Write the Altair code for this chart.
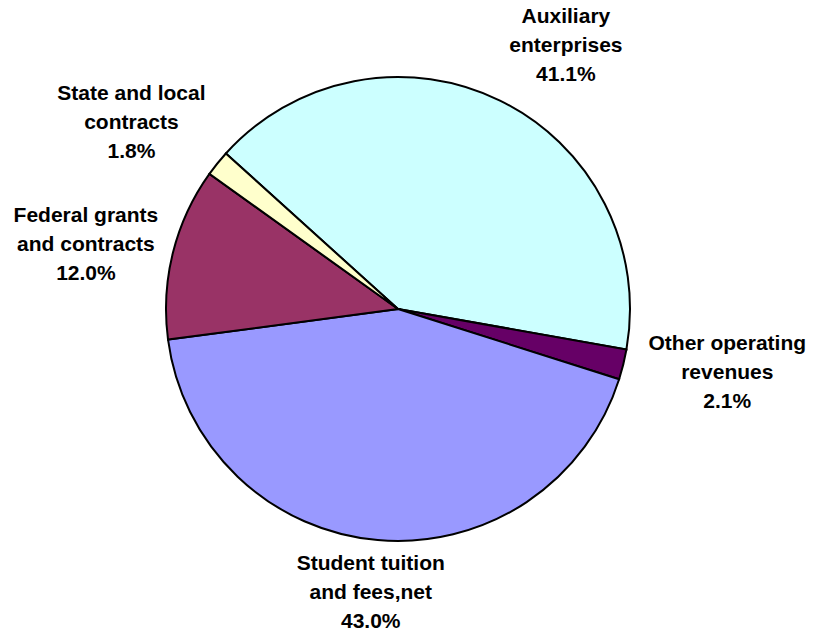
import math
import altair as alt
import pandas as pd

# ---- data ----
categories = ["Auxiliary enterprises", "Other operating revenues",
              "Student tuition and fees,net", "Federal grants and contracts",
              "State and local contracts"]
label_lines = ["Auxiliary\nenterprises", "Other operating\nrevenues",
               "Student tuition\nand fees,net", "Federal grants\nand contracts",
               "State and local\ncontracts"]
shares = [41.1, 2.1, 43.0, 12.0, 1.8]

# ---- styles ----
colors = ["#CCFFFF", "#660066", "#9999FF", "#993366", "#FFFFCC"]
start = math.radians(312.1)
cx, cy = 390, 301
pie_r = 232
# label layout (radius, dx, dy) per category
label_layout = {
    "Auxiliary enterprises": (300, 36, -23),
    "Other operating revenues": (300, 38, -37),
    "Student tuition and fees,net": (300, -1, -44),
    "Federal grants and contracts": (300, -21, -20),
    "State and local contracts": (300, -33, -27),
}

df = pd.DataFrame({
    "category": categories,
    "label": [f"{l}\n{v:.1f}%" for l, v in zip(label_lines, shares)],
    "value": shares,
    "order": list(range(len(categories))),
})

theta_scale = alt.Scale(domain=[0, 100], range=[start, start + 2 * math.pi])

base = alt.Chart(df).transform_window(
    cum="sum(value)", sort=[alt.SortField("order")]
).transform_calculate(mid="datum.cum - datum.value / 2")

pie = base.mark_arc(outerRadius=pie_r, stroke="black", strokeWidth=2).encode(
    theta=alt.Theta("value:Q", stack=True, scale=theta_scale),
    order=alt.Order("order:Q"),
    color=alt.Color("category:N", scale=alt.Scale(domain=categories, range=colors), legend=None),
    x=alt.value(cx), y=alt.value(cy),
)

layers = [pie]
for cat in categories:
    r, dx, dy = label_layout[cat]
    t = base.transform_filter(alt.datum.category == cat).mark_text(
        radius=r, dx=dx, dy=dy, font="Liberation Sans", fontWeight="bold",
        fontSize=21, lineHeight=29, align="center", baseline="middle",
        lineBreak="\n", color="black",
    ).encode(
        theta=alt.Theta("mid:Q", stack=None, scale=theta_scale),
        text="label:N",
        x=alt.value(cx), y=alt.value(cy),
    )
    layers.append(t)

chart = alt.layer(*layers).properties(
    width=798, height=621, padding=0,
    autosize=alt.AutoSizeParams(type="none"),
).configure_view(stroke=None)

chart.save("out.html", embed_options={"renderer": "svg", "actions": False})
